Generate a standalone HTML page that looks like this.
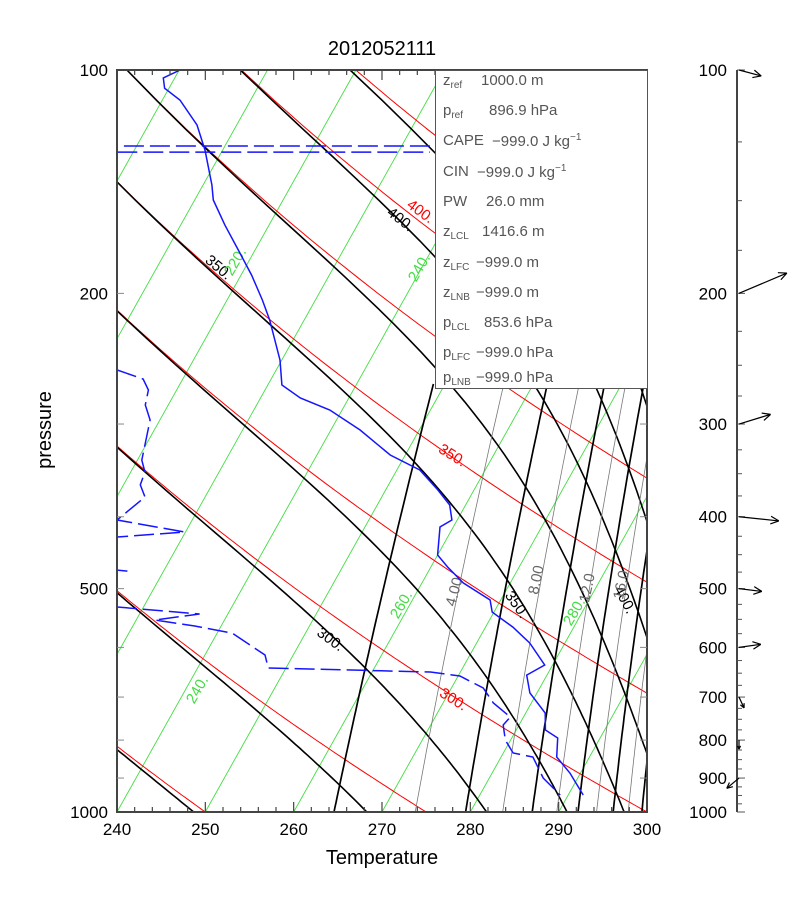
<!DOCTYPE html>
<html><head><meta charset="utf-8"><style>
html,body{margin:0;padding:0;background:#fff;}
#wrap{position:relative;width:812px;height:910px;overflow:hidden;font-family:"Liberation Sans",sans-serif;}
svg{position:absolute;left:0;top:0;}
#tbl{position:absolute;left:435px;top:70px;width:211px;height:317px;background:#fff;border:1px solid #555;color:#555;font-size:15px;}
.row{position:absolute;left:7px;height:20px;white-space:nowrap;}
.row .v{position:absolute;top:0;}
sub{font-size:10px;vertical-align:-3px;}
sup{font-size:10px;vertical-align:6px;}
</style></head><body>
<div id="wrap">
<svg id="svg" width="812" height="910" xmlns="http://www.w3.org/2000/svg">
<defs><clipPath id="clip"><rect x="117" y="70" width="530" height="742"/></clipPath></defs>
<text x="382" y="55" font-size="20" text-anchor="middle" font-family="Liberation Sans">2012052111</text>
<g id="grid" clip-path="url(#clip)"></g>
<g id="labels"></g>
<g id="sounding" clip-path="url(#clip)"></g>
<rect x="117" y="70" width="530" height="742" fill="none" stroke="#444" stroke-width="2"/>
<g id="axes"></g>
<text x="382" y="864" font-size="20" text-anchor="middle">Temperature</text>
<text transform="translate(51,430) rotate(-90)" font-size="20" text-anchor="middle">pressure</text>
<g id="winds"></g>
</svg>
<div id="tbl">
<div class="row" style="top:1px">z<sub>ref</sub><span class="v" style="left:38px">1000.0 m</span></div>
<div class="row" style="top:31px">p<sub>ref</sub><span class="v" style="left:46px">896.9 hPa</span></div>
<div class="row" style="top:61px">CAPE<span class="v" style="left:49px">−999.0 J kg<sup>−1</sup></span></div>
<div class="row" style="top:92px">CIN<span class="v" style="left:34px">−999.0 J kg<sup>−1</sup></span></div>
<div class="row" style="top:122px">PW<span class="v" style="left:43px">26.0 mm</span></div>
<div class="row" style="top:152px">z<sub>LCL</sub><span class="v" style="left:39px">1416.6 m</span></div>
<div class="row" style="top:183px">z<sub>LFC</sub><span class="v" style="left:33px">−999.0 m</span></div>
<div class="row" style="top:213px">z<sub>LNB</sub><span class="v" style="left:33px">−999.0 m</span></div>
<div class="row" style="top:243px">p<sub>LCL</sub><span class="v" style="left:41px">853.6 hPa</span></div>
<div class="row" style="top:273px">p<sub>LFC</sub><span class="v" style="left:33px">−999.0 hPa</span></div>
<div class="row" style="top:298px">p<sub>LNB</sub><span class="v" style="left:33px">−999.0 hPa</span></div>
</div>
</div>
<script>
// ---- data ----
const tempP = [100,102.5,105.8,109.8,118.6,128.2,142.9,149.7,161.8,174.8,189,204.2,217.3,246,265.8,276.7,287.2,305.6,330.3,346,368.1,385.7,404.1,412.9,450.4,467.6,491.4,518,537.7,563.4,591.8,633.8,653.8,691.2,735.6,775.4,794.9,843.2,886,948.6];
const tempT = [200.1,198.7,199.5,202.0,205.5,208.0,211.0,212.1,215.0,218.1,221.2,224.0,226.1,229.8,231.6,234.5,238.6,243.3,248.3,252.6,255.9,258.2,259.4,258.5,260.0,261.9,264.7,268.8,269.8,273.1,276.0,279.1,277.7,279.2,282.2,283.3,285.2,286.3,288.8,291.7];
const dewP = [126.6,126.6,null,129.0,129.0,null,253.7,260.9,269.9,282.8,296.3,335.5,348.1,362.4,376.2,404.1,419.4,426,null,472,473.5,null,529.3,541,551.1,561.5,574,614.4,639.6,647.6,655.7,680.6,713.1,744.7,763.3,799.8,832.6,843.2,900,948.6];
const dewT = [233.2,197.8,null,198.2,233.6,null,212.0,215.5,216.8,217.4,218.9,220.5,221.6,221.9,223.2,221.5,229.9,222.6,null,224.7,225.9,null,227.0,236.8,232.1,237.0,241.7,246.8,248.0,266.6,270.2,273.6,275.7,278.5,278.2,279.4,281.1,283.6,286.1,289.1];
const windP = [100,200,300,400,500,600,700,800,900];
const windLen = [23,52,33,40,23,22,12,9,16];
const windAng = [15,-23,-17,6,7,-8,65,90,140];
const isotherms = [150,160,170,180,190,200,210,220,230,240,250,260,270,280,290,300];
const thetas = [225,250,275,300,325,350,375,400,425,450,475,500];
const thetaEs = [225,250,275,300,325,350,375,400,425,450,475,500];
const mixRatios = [2,4,6,8,10,12,14,16,18,20,22,24];
const xTicks = [240,250,260,270,280,290,300];
const pLabels = [100,200,500,1000];
const windLabels = [100,200,300,400,500,600,700,800,900,1000];

const NS='http://www.w3.org/2000/svg';
function yOf(p){return 70+742*Math.log10(p/100);}
function xOf(T,p){return 117+(T-240)*8.833+0.56*(812-yOf(p));}
function mk(tag,attrs,parent){const e=document.createElementNS(NS,tag);for(const k in attrs)e.setAttribute(k,attrs[k]);parent.appendChild(e);return e;}
function poly(pts,parent,stroke,w,dash){const e=mk('polyline',{points:pts.map(q=>q[0].toFixed(1)+','+q[1].toFixed(1)).join(' '),fill:'none',stroke:stroke,'stroke-width':w},parent);if(dash)e.setAttribute('stroke-dasharray',dash);return e;}
const grid=document.getElementById('grid');
function es(T){const c=T-273.15;return 6.112*Math.exp(17.67*c/(c+243.5));}
function thetaE(T,p){const e=es(T);const ws=0.622*e/(p-e);return T*Math.pow(1000/p,0.286)*Math.exp(2.5e6*ws/(1004*T));}

// isotherms
isotherms.forEach(T=>{
  const l=poly([[xOf(T,1000),yOf(1000)],[xOf(T,100),yOf(100)]],grid,'#44dd44',0.9);
  
  
});
// dry adiabats
thetas.forEach(th=>{
  const pts=[];for(let p=100;p<=1000;p+=10){pts.push([xOf(th*Math.pow(p/1000,0.286),p),yOf(p)]);}
  const l=poly(pts,grid,'#ff0000',1);
  
  
});
// moist adiabats
thetaEs.forEach(te=>{
  const pts=[];
  for(let p=100;p<=1000;p+=10){
    let lo=120,hi=360;
    for(let i=0;i<40;i++){const m=(lo+hi)/2;if(thetaE(m,p)>te)hi=m;else lo=m;}
    pts.push([xOf((lo+hi)/2,p),yOf(p)]);
  }
  const l=poly(pts,grid,'#000',1.6);
  
  
});
// mixing ratio lines
mixRatios.forEach(w=>{
  const pts=[];
  for(let p=265;p<=1000;p+=15){
    const e=w*p/(622+w);const L=Math.log(e/6.112);const Td=243.5*L/(17.67-L)+273.15;
    pts.push([xOf(Td,p),yOf(p)]);
  }
  const thin=(w%4===0);
  const l=poly(pts,grid,thin?'#777':'#000',thin?0.8:1.7);
  
  
});

// labels
const labs=document.getElementById('labels');
function lab(txt,x,y,rot,col,name){
  const t=mk('text',{x:0,y:0,transform:'translate('+x+','+y+') rotate('+rot+')','font-size':15,fill:col,'text-anchor':'middle','dominant-baseline':'middle'},labs);
  t.textContent=txt;
  
  
}
lab('400.',420,212,36,'#ff0000','dry-adiabat-label-400');
lab('350.',452,456,32,'#ff0000','dry-adiabat-label-350');
lab('300.',453,700,32,'#ff0000','dry-adiabat-label-300');
lab('350.',218,268,40,'#000','moist-label-350a');
lab('400.',400,220,38,'#000','moist-label-400a');
lab('300.',330,640,36,'#000','moist-label-300');
lab('350.',516,605,55,'#000','moist-label-350b');
lab('400.',624,600,62,'#000','moist-label-400b');
lab('220.',236,262,-60,'#44dd44','isotherm-label-220');
lab('240.',420,268,-60,'#44dd44','isotherm-label-240');
lab('260.',402,605,-60,'#44dd44','isotherm-label-260');
lab('280.',575,612,-60,'#44dd44','isotherm-label-280');
lab('240.',198,690,-60,'#44dd44','isotherm-label-240b');
lab('4.00',455,592,-75,'#666','mixing-label-4');
lab('8.00',537,580,-78,'#666','mixing-label-8');
lab('12.0',588,588,-78,'#666','mixing-label-12');
lab('16.0',622,585,-78,'#666','mixing-label-16');

// sounding
const snd=document.getElementById('sounding');
const tp=tempP.map((p,i)=>[xOf(tempT[i],p),yOf(p)]);
const tl=poly(tp,snd,'#1515ff',1.5);


let seg=[];
function flush(){if(seg.length>1){const d=poly(seg,snd,'#1515ff',1.5,'20,6');
  
  }seg=[];}
dewP.forEach((p,i)=>{if(p===null){flush();}else seg.push([xOf(dewT[i],p),yOf(p)]);});
flush();

// axes
const ax=document.getElementById('axes');
for(let T=240;T<=300;T+=2){
  const x=117+(T-240)*8.833;const maj=(T%10===0);
  mk('line',{x1:x,y1:812,x2:x,y2:812-(maj?10:5),stroke:'#444','stroke-width':1.2},ax);
  mk('line',{x1:x,y1:70,x2:x,y2:70+(maj?10:5),stroke:'#444','stroke-width':1.2},ax);
}
xTicks.forEach(T=>{
  const t=mk('text',{x:117+(T-240)*8.833,y:835,'font-size':17,'text-anchor':'middle'},ax);
  t.textContent=T;
  
  
});
for(let p=200;p<1000;p+=100){
  mk('line',{x1:117,y1:yOf(p),x2:124,y2:yOf(p),stroke:'#888','stroke-width':1},ax);
  mk('line',{x1:647,y1:yOf(p),x2:640,y2:yOf(p),stroke:'#888','stroke-width':1},ax);
}
pLabels.forEach(p=>{
  const t=mk('text',{x:108,y:yOf(p)+6,'font-size':17,'text-anchor':'end'},ax);
  t.textContent=p;
  
  
});

// wind axis
const wd=document.getElementById('winds');
mk('line',{x1:737,y1:70,x2:737,y2:812,stroke:'#444','stroke-width':2},wd);
for(let p=100;p<=1000;p+=25){const y=yOf(p);mk('line',{x1:737,y1:y,x2:(p%100===0?745:742),y2:y,stroke:'#555','stroke-width':1},wd);}
windLabels.forEach(p=>{
  const t=mk('text',{x:727,y:yOf(p)+6,'font-size':17,'text-anchor':'end'},wd);
  t.textContent=p;
  
  
});
windP.forEach((p,i)=>{
  const a=windAng[i]*Math.PI/180,L=windLen[i];
  const x0=739,y0=yOf(p);const x1=x0+L*Math.cos(a),y1=y0+L*Math.sin(a);
  const g=mk('g',{},wd);
  
  
  mk('line',{x1:x0,y1:y0,x2:x1,y2:y1,stroke:'#000','stroke-width':1.2},g);
  const h=Math.min(9,L*0.4);
  [a+2.7,a-2.7].forEach(b=>mk('line',{x1:x1,y1:y1,x2:x1+h*Math.cos(b),y2:y1+h*Math.sin(b),stroke:'#000','stroke-width':1.2},g));
});
</script>
</body></html>
